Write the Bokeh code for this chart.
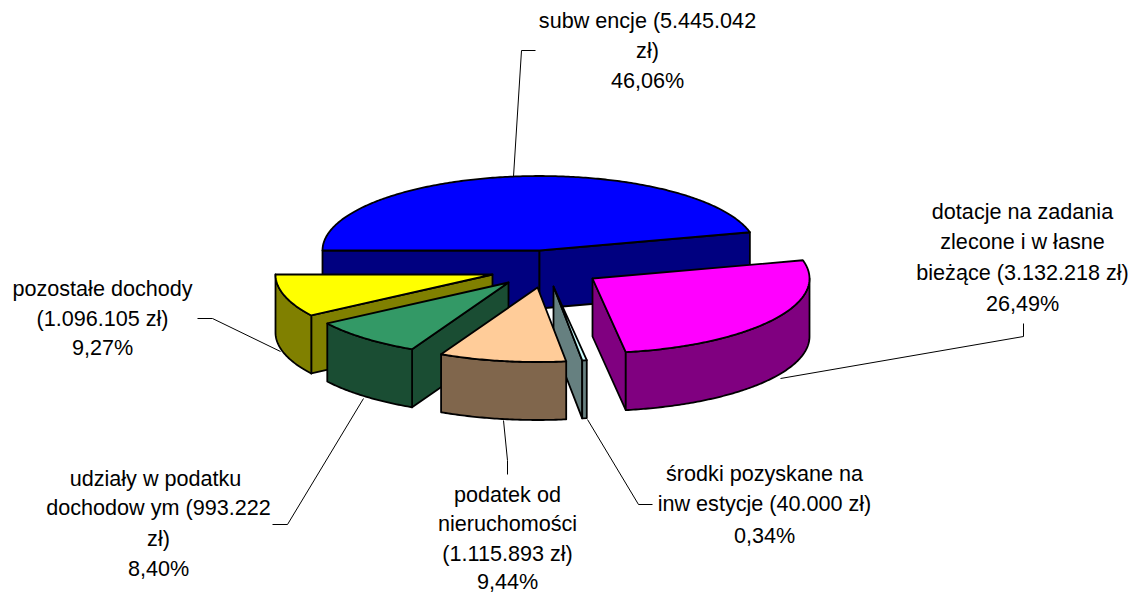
import math
from bokeh.plotting import figure
from bokeh.models import ColumnDataSource, Range1d
from bokeh.core.properties import value
from bokeh.embed import file_html
from bokeh.resources import INLINE

# --- data ---
names = ["subwencje", "dotacje", "srodki", "podatek", "udzialy", "pozostale"]
amounts = [5445042, 3132218, 40000, 1115893, 993222, 1096105]
labels = [
    ["subw encje (5.445.042", "zł)", "46,06%"],
    ["dotacje na zadania", "zlecone i w łasne", "bieżące (3.132.218 zł)", "26,49%"],
    ["środki pozyskane na", "inw estycje (40.000 zł)", "0,34%"],
    ["podatek od", "nieruchomości", "(1.115.893 zł)", "9,44%"],
    ["udziały w  podatku", "dochodow ym (993.222", "zł)", "8,40%"],
    ["pozostałe dochody", "(1.096.105 zł)", "9,27%"],
]
top_colors = ["#0000FF", "#FF00FF", "#CCFFFF", "#FFCC99", "#339966", "#FFFF00"]
side_colors = ["#000080", "#800080", "#668080", "#80664C", "#1A4D33", "#808000"]

# --- layout of the 3D pie (pixels) ---
W, H = 1135, 593
CX, CY = 538, 269
RX, RY = 217, 74.5
DEPTH = 58
START = 180.0
explode = [(1, -19), (54, 9), (15, 17), (-1, 18), (-30, 13), (-46, 5)]
paint_order = [0, 5, 4, 1, 2, 3]

label_pos = [
    (647, [20, 50, 80]),
    (1022, [211, 241, 272, 303]),
    (764, [473, 503, 535]),
    (507, [494, 523, 553, 581]),
    (158, [478, 507, 538, 568]),
    (102, [288, 318, 347]),
]
leaders = [
    ([535, 521, 513], [50, 50, 176]),
    ([1023, 1023, 780], [323, 336, 378]),
    ([652, 638, 587], [504, 504, 419]),
    ([507, 507, 503], [474, 460, 420]),
    ([272, 287, 363], [524, 524, 398]),
    ([197, 212, 280], [318, 318, 351]),
]

p = figure(width=W, height=H, output_backend="svg", toolbar_location=None,
           x_range=Range1d(0, W), y_range=Range1d(H, 0),
           min_border=0, outline_line_color=None, background_fill_color="white")
p.axis.visible = False
p.grid.visible = False

total = sum(amounts)
spans = [a / total * 360 for a in amounts]
starts = [START - sum(spans[:i]) for i in range(len(spans))]


def arc(ax, ay, a1, a2, dy=0):
    n = max(2, int(abs(a1 - a2) * 1.5) + 1)
    xs, ys = [], []
    for k in range(n):
        t = math.radians(a1 + (a2 - a1) * k / (n - 1))
        xs.append(ax + RX * math.cos(t))
        ys.append(ay - RY * math.sin(t) + dy)
    return xs, ys


px, py, pc = [], [], []


def add(xs, ys, c):
    px.append(xs)
    py.append(ys)
    pc.append(c)


for i in paint_order:
    a1 = starts[i]
    a2 = a1 - spans[i]
    ax, ay = CX + explode[i][0], CY + explode[i][1]
    # radial wall at the start angle, if it faces the viewer
    if math.sin(math.radians(a1 + 90)) < 0:
        ex, ey = arc(ax, ay, a1, a1 - 1e-6)
        add([ax, ex[0], ex[0], ax], [ay, ey[0], ey[0] + DEPTH, ay + DEPTH], side_colors[i])
    # radial wall at the end angle, if it faces the viewer
    if math.sin(math.radians(a2 - 90)) < 0:
        ex, ey = arc(ax, ay, a2, a2 - 1e-6)
        add([ax, ex[0], ex[0], ax], [ay, ey[0], ey[0] + DEPTH, ay + DEPTH], side_colors[i])
    # outer wall: only the part of the rim in front
    f1, f2 = min(a1, 0), max(a2, -180)
    if f1 > f2:
        tx, ty = arc(ax, ay, f1, f2)
        bx, by = arc(ax, ay, f2, f1, DEPTH)
        add(tx + bx, ty + by, side_colors[i])
    # top
    tx, ty = arc(ax, ay, a1, a2)
    add([ax] + tx, [ay] + ty, top_colors[i])

p.patches("x", "y", source=ColumnDataSource(dict(x=px, y=py, c=pc)),
          fill_color="c", line_color="black", line_width=1.8, line_join="round")

# leader lines
for lx, ly in leaders:
    p.line(lx, ly, line_color="black", line_width=1)

# labels
tx, ty, tt = [], [], []
for (cx, ys), lines in zip(label_pos, labels):
    for y, s in zip(ys, lines):
        tx.append(cx)
        ty.append(y)
        tt.append(s)
p.text(tx, ty, text=tt, text_font=value("Liberation Sans"), text_font_size="21.6px",
       text_align="center", text_baseline="middle", text_color="black")

open("out.html", "w").write(file_html(p, INLINE))
